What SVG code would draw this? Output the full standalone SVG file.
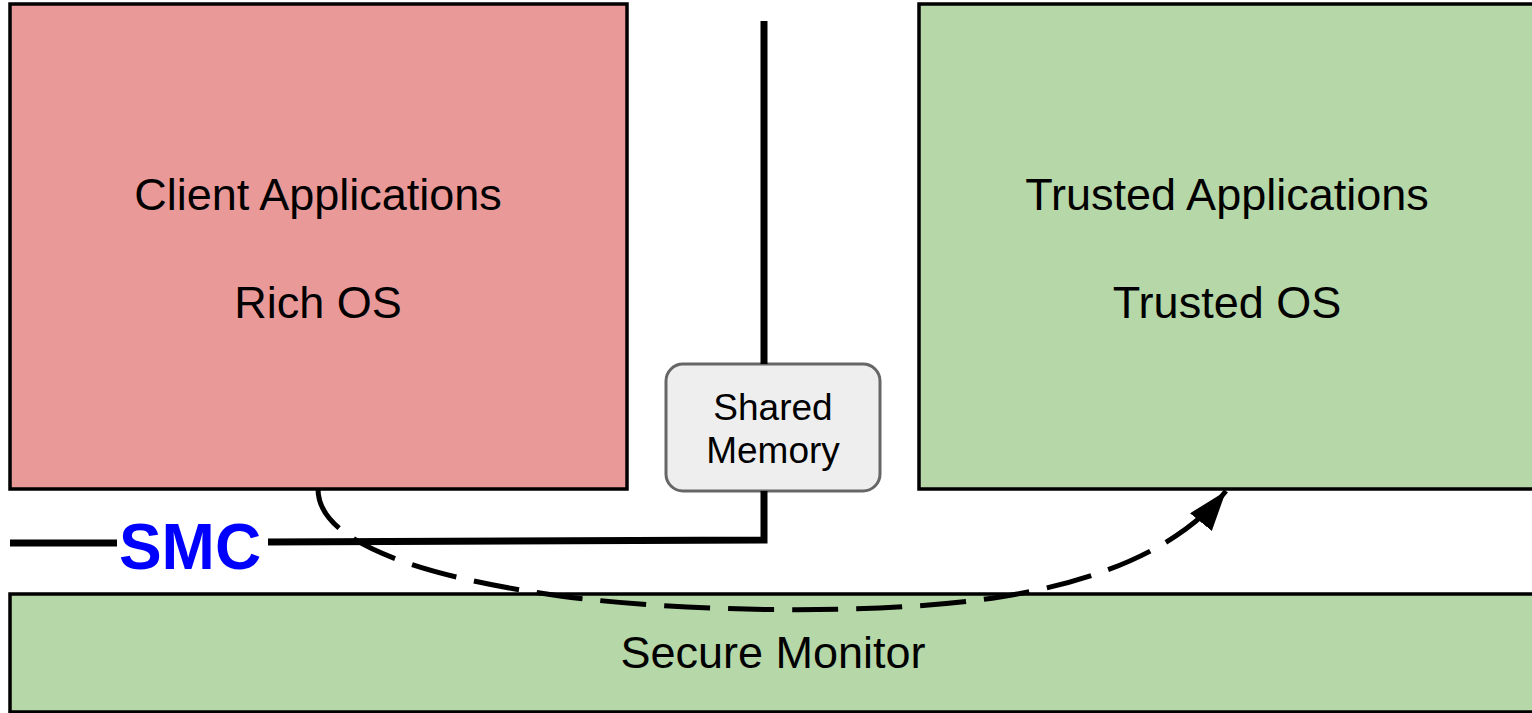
<svg xmlns="http://www.w3.org/2000/svg" width="1532" height="713" viewBox="0 0 1532 713">
  <style>
    .box { stroke: #000; stroke-width: 3.5; }
    .label { font-family: "Liberation Sans", Arial, sans-serif; font-size: 45px; fill: #000; text-anchor: middle; }
    .small { font-family: "Liberation Sans", Arial, sans-serif; font-size: 37px; fill: #000; text-anchor: middle; }
    .wire { stroke: #000; stroke-width: 7; fill: none; }
    .flow { stroke: #000; stroke-width: 5; fill: none; stroke-dasharray: 46 18; }
  </style>
  <defs>
    <marker id="head" markerUnits="userSpaceOnUse" markerWidth="42" markerHeight="32" refX="40" refY="14" orient="auto">
      <path d="M0,0 L40,14 L0,28 Z" fill="#000"/>
    </marker>
  </defs>
  <rect width="1532" height="713" fill="#fff"/>

  <g id="client">
    <rect class="box" x="10" y="4" width="617" height="485" fill="#ea9999"/>
    <text class="label" x="318" y="210">Client Applications</text>
    <text class="label" x="318" y="318">Rich OS</text>
  </g>

  <g id="trusted">
    <rect class="box" x="919" y="4" width="640" height="485" fill="#b6d7a8"/>
    <text class="label" x="1227" y="210">Trusted Applications</text>
    <text class="label" x="1227" y="318">Trusted OS</text>
  </g>

  <g id="shared-memory">
    <rect x="666" y="364" width="214" height="127" rx="17" fill="#eeeeee" stroke="#666" stroke-width="3"/>
    <text class="small" x="773" y="420">Shared</text>
    <text class="small" x="773" y="463">Memory</text>
  </g>

  <g id="secure-monitor">
    <rect class="box" x="10" y="594" width="1560" height="118" fill="#b6d7a8"/>
    <text class="label" x="773" y="668">Secure Monitor</text>
  </g>

  <g id="smc">
    <text x="190" y="569" font-family="Liberation Sans, Arial, sans-serif" font-size="64" font-weight="bold" fill="#0000ff" text-anchor="middle">SMC</text>
  </g>

  <g id="connectors">
    <!-- boundary line between normal and secure world, with shared memory in between -->
    <polyline class="wire" points="764,21 764,364"/>
    <polyline class="wire" points="764,491 764,540 268,542"/>
    <line class="wire" x1="10" y1="543" x2="117" y2="543"/>
    <!-- SMC call path -->
    <path class="flow" d="M318,489 C318,545 430,578 560,596 C680,612 880,616 1000,597 C1100,581 1180,548 1226,491" marker-end="url(#head)"/>
  </g>
</svg>
